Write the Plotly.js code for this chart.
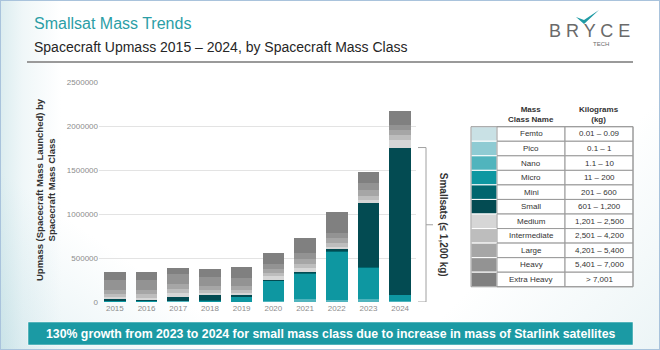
<!DOCTYPE html>
<html>
<head>
<meta charset="utf-8">
<script src="https://cdn.plot.ly/plotly-3.0.1.min.js"></script>
<style>
  html, body { margin: 0; padding: 0; background: #ffffff; }
  #wrap {
    position: relative; width: 660px; height: 350px; box-sizing: border-box;
    border: 1px solid #a9c3dc;
    background:
      linear-gradient(90deg, rgba(140,195,205,0.30) 0px, rgba(170,210,218,0.18) 22px, rgba(255,255,255,0) 60px),
      linear-gradient(35deg, rgba(160,205,215,0.28) 0%, rgba(255,255,255,0) 22%),
      linear-gradient(315deg, rgba(200,225,230,0.35) 0%, rgba(255,255,255,0) 25%),
      #ffffff;
  }
  #chart { position: absolute; left: -1px; top: -1px; width: 660px; height: 350px; }
</style>
</head>
<body>
<div id="wrap"><div id="chart"></div></div>
<script>
// ---------- DATA (kg launched per year, by mass class) ----------
const years = ['2015','2016','2017','2018','2019','2020','2021','2022','2023','2024'];

const femto        = [0, 0, 0, 0, 0, 0, 0, 0, 0, 0];
const pico         = [0, 0, 0, 0, 0, 0, 0, 0, 0, 0];
const nano         = [3000, 4000, 6000, 5000, 4000, 8000, 30000, 20000, 35000, 10000];
const micro        = [8000, 5000, 5000, 5000, 50000, 230000, 290000, 550000, 355000, 65000];
const mini         = [2000, 2000, 5000, 10000, 5000, 5000, 5000, 10000, 10000, 10000];
const small        = [18000, 14000, 45000, 55000, 15000, 10000, 20000, 20000, 720000, 1670000];
const medium       = [26000, 26000, 38000, 23000, 30000, 38000, 42000, 30000, 38000, 83000];
const intermediate = [38000, 45000, 45000, 38000, 38000, 42000, 49000, 45000, 45000, 57000];
const large        = [45000, 45000, 57000, 45000, 38000, 42000, 57000, 49000, 68000, 57000];
const heavy        = [114000, 106000, 114000, 106000, 95000, 53000, 64000, 57000, 76000, 57000];
const extraHeavy   = [87000, 95000, 68000, 83000, 125000, 125000, 174000, 239000, 133000, 159000];

// table content
const classNames = ['Femto','Pico','Nano','Micro','Mini','Small','Medium','Intermediate','Large','Heavy','Extra Heavy'];
const classRanges = ['0.01 – 0.09','0.1 – 1','1.1 – 10','11 – 200','201 – 600','601 – 1,200',
                     '1,201 – 2,500','2,501 – 4,200','4,201 – 5,400','5,401 – 7,000','> 7,001'];

// ---------- STYLE ----------
const classColors = ['#c9e1e5','#8fcbd3','#50b4bd','#0e97a1','#00666e','#034b52',
                     '#d6d6d6','#bdbdbd','#a6a6a6','#939393','#808080'];
const series = [femto, pico, nano, micro, mini, small, medium, intermediate, large, heavy, extraHeavy];

const FONT = 'Liberation Sans, Arial, Helvetica, sans-serif';
const L = 99, R = 416, T = 82, B = 302;               // plot area in pixels
const X = px => (px - L) / (R - L);                   // pixel -> paper
const Y = py => (B - py) / (B - T);

const traces = series.map((vals, i) => ({
  type: 'bar', x: years, y: vals, name: classNames[i],
  marker: { color: classColors[i], line: { width: 0 } },
  hoverinfo: 'skip'
}));

// smallsat total of the last year (for the bracket)
const last = years.length - 1;
const smallsatLast = femto[last] + pico[last] + nano[last] + micro[last] + mini[last] + small[last];

const shapes = [];
const annotations = [];

// header rule
shapes.push({ type: 'line', xref: 'paper', yref: 'paper', x0: X(27), x1: X(633), y0: Y(62), y1: Y(62),
  line: { color: '#9a9a9a', width: 2 } });

// titles
annotations.push({ xref: 'paper', yref: 'paper', x: X(32), y: Y(24), xanchor: 'left', yanchor: 'middle',
  text: 'Smallsat Mass Trends', showarrow: false, font: { family: FONT, size: 16, color: '#2b9ea6' } });
annotations.push({ xref: 'paper', yref: 'paper', x: X(32), y: Y(47), xanchor: 'left', yanchor: 'middle',
  text: 'Spacecraft Upmass 2015 – 2024, by Spacecraft Mass Class', showarrow: false,
  font: { family: FONT, size: 14, color: '#262626' } });

// logo
annotations.push({ xref: 'paper', yref: 'paper', x: X(589), y: Y(31), xanchor: 'center', yanchor: 'middle',
  text: 'B R Y C E', showarrow: false, font: { family: FONT, size: 18, color: '#6a6a6a' } });
annotations.push({ xref: 'paper', yref: 'paper', x: X(601), y: Y(44), xanchor: 'center', yanchor: 'middle',
  text: 'TECH', showarrow: false, font: { family: FONT, size: 6, color: '#6b6b6b' } });
shapes.push({ type: 'path', xref: 'paper', yref: 'paper',
  path: `M ${X(576)} ${Y(17)} L ${X(584)} ${Y(24)} L ${X(599)} ${Y(10)} L ${X(584)} ${Y(20)} Z`,
  fillcolor: '#1f9ba5', line: { width: 0 } });

// y-axis title
annotations.push({ xref: 'paper', yref: 'paper', x: X(45), y: Y(190), xanchor: 'center', yanchor: 'middle',
  textangle: -90, text: '<b>Upmass (Spacecraft Mass Launched) by<br>Spacecraft Mass Class</b>', showarrow: false,
  font: { family: FONT, size: 9.5, color: '#333333' } });

// smallsat bracket
const bx0 = X(418), bx1 = X(426), bx2 = X(433);
shapes.push({ type: 'path', xref: 'paper', yref: 'y',
  path: `M ${bx0} ${smallsatLast} L ${bx1} ${smallsatLast} L ${bx1} 0 L ${bx0} 0`,
  line: { color: '#a0a0a0', width: 1 } });
shapes.push({ type: 'line', xref: 'paper', yref: 'y', x0: bx1, x1: bx2, y0: smallsatLast / 2, y1: smallsatLast / 2,
  line: { color: '#a0a0a0', width: 1 } });
annotations.push({ xref: 'paper', yref: 'y', x: X(443), y: smallsatLast / 2, xanchor: 'center', yanchor: 'middle',
  textangle: 90, text: '<b>Smallsats (≤ 1,200 kg)</b>', showarrow: false,
  font: { family: FONT, size: 10, color: '#333333' } });

// table
const tx0 = 471, tx1 = 497, tx2 = 565, tx3 = 633, tyTop = 126.7, rowH = 14.55;
annotations.push({ xref: 'paper', yref: 'paper', x: X((tx1 + tx2) / 2), y: Y(114), xanchor: 'center', yanchor: 'middle',
  text: '<b>Mass<br>Class Name</b>', showarrow: false, font: { family: FONT, size: 8, color: '#333333' } });
annotations.push({ xref: 'paper', yref: 'paper', x: X((tx2 + tx3) / 2), y: Y(114), xanchor: 'center', yanchor: 'middle',
  text: '<b>Kilograms<br>(kg)</b>', showarrow: false, font: { family: FONT, size: 8, color: '#333333' } });
classNames.forEach((nm, i) => {
  const y0 = tyTop + i * rowH, y1 = y0 + rowH;
  shapes.push({ type: 'rect', xref: 'paper', yref: 'paper', x0: X(tx0), x1: X(tx1), y0: Y(y0), y1: Y(y1),
    fillcolor: classColors[i], line: { color: '#ffffff', width: 1 } });
  shapes.push({ type: 'rect', xref: 'paper', yref: 'paper', x0: X(tx1), x1: X(tx2), y0: Y(y0), y1: Y(y1),
    fillcolor: 'rgba(255,255,255,0.85)', line: { color: '#9a9a9a', width: 1 } });
  shapes.push({ type: 'rect', xref: 'paper', yref: 'paper', x0: X(tx2), x1: X(tx3), y0: Y(y0), y1: Y(y1),
    fillcolor: 'rgba(255,255,255,0.85)', line: { color: '#9a9a9a', width: 1 } });
  annotations.push({ xref: 'paper', yref: 'paper', x: X((tx1 + tx2) / 2), y: Y((y0 + y1) / 2), xanchor: 'center', yanchor: 'middle',
    text: nm, showarrow: false, font: { family: FONT, size: 8, color: '#333333' } });
  annotations.push({ xref: 'paper', yref: 'paper', x: X((tx2 + tx3) / 2), y: Y((y0 + y1) / 2), xanchor: 'center', yanchor: 'middle',
    text: classRanges[i], showarrow: false, font: { family: FONT, size: 8, color: '#333333' } });
});
shapes.push({ type: 'rect', xref: 'paper', yref: 'paper', x0: X(tx0), x1: X(tx3), y0: Y(tyTop), y1: Y(tyTop + rowH * classNames.length),
  line: { color: '#9a9a9a', width: 1 } });

// bottom banner
shapes.push({ type: 'rect', xref: 'paper', yref: 'paper', x0: X(28), x1: X(633), y0: Y(322), y1: Y(345),
  fillcolor: '#1b9aa4', line: { color: '#ffffff', width: 0.5 } });
annotations.push({ xref: 'paper', yref: 'paper', x: X(330), y: Y(333.5), xanchor: 'center', yanchor: 'middle',
  text: '<b>130% growth from 2023 to 2024 for small mass class due to increase in mass of Starlink satellites</b>',
  showarrow: false, font: { family: FONT, size: 12.3, color: '#ffffff' } });

const layout = {
  width: 660, height: 350,
  margin: { l: L, r: 660 - R, t: T, b: 350 - B, pad: 0 },
  paper_bgcolor: 'rgba(0,0,0,0)', plot_bgcolor: 'rgba(0,0,0,0)',
  barmode: 'stack', bargap: 0.32, showlegend: false,
  font: { family: FONT },
  xaxis: { type: 'category', tickfont: { size: 8, color: '#8c8c8c' }, showline: false, ticks: '',
           showgrid: false, zeroline: false, fixedrange: true },
  yaxis: { range: [0, 2500000], dtick: 500000, tickformat: 'd', tickfont: { size: 8, color: '#8c8c8c' },
           gridcolor: '#e3e3e3', gridwidth: 1, zeroline: false, showline: false, ticks: '', fixedrange: true },
  shapes: shapes, annotations: annotations
};

Plotly.newPlot('chart', traces, layout, { displayModeBar: false, staticPlot: true });
</script>
</body>
</html>
